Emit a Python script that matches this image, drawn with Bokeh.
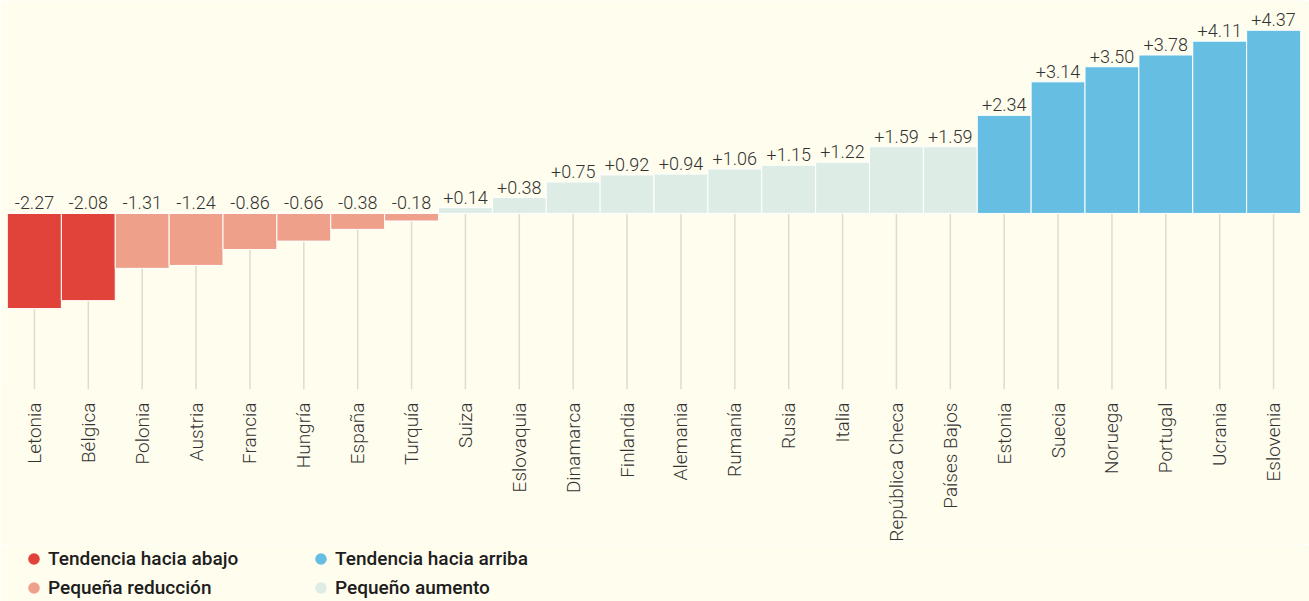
from math import pi
from bokeh.plotting import figure
from bokeh.layouts import column
from bokeh.models import (ColumnDataSource, FactorRange, Range1d, Legend, LegendItem,
                          CDSView, GroupFilter)
from bokeh.core.properties import value
from bokeh.embed import file_html
from bokeh.resources import INLINE

countries = ["Letonia", "Bélgica", "Polonia", "Austria", "Francia", "Hungría", "España", "Turquía",
             "Suiza", "Eslovaquia", "Dinamarca", "Finlandia", "Alemania", "Rumanía", "Rusia", "Italia",
             "República Checa", "Países Bajos", "Estonia", "Suecia", "Noruega", "Portugal", "Ucrania",
             "Eslovenia"]
values = [-2.27, -2.08, -1.31, -1.24, -0.86, -0.66, -0.38, -0.18,
          0.14, 0.38, 0.75, 0.92, 0.94, 1.06, 1.15, 1.22,
          1.59, 1.59, 2.34, 3.14, 3.50, 3.78, 4.11, 4.37]
groups = (["Tendencia hacia abajo"] * 2 + ["Pequeña reducción"] * 6
          + ["Pequeño aumento"] * 10 + ["Tendencia hacia arriba"] * 6)
group_colors = {
    "Tendencia hacia abajo": "#e1423a",
    "Pequeña reducción": "#eea08a",
    "Tendencia hacia arriba": "#66bfe3",
    "Pequeño aumento": "#ddede6",
}
legend_columns = [["Tendencia hacia abajo", "Pequeña reducción"],
                  ["Tendencia hacia arriba", "Pequeño aumento"]]

BG = "#fffdee"
TXT = "#333333"
FONT = "Roboto Light, Roboto"
LEG_FONT = "Roboto Medium, Roboto"
Y0, Y1 = -4.2, 5.08

src = ColumnDataSource(dict(
    country=countries,
    value=values,
    group=groups,
    color=[group_colors[g] for g in groups],
    label=[f"{v:+.2f}" for v in values],
    label_y=[max(v, 0) for v in values],
    line_end=[Y0] * len(values),
    zero=[0] * len(values),
))

p = figure(width=1309, height=544, x_range=FactorRange(*countries), y_range=Range1d(Y0, Y1),
           output_backend="svg", toolbar_location=None, y_axis_location=None,
           min_border_left=7, min_border_right=9, min_border_top=0, min_border_bottom=155)
p.background_fill_color = BG
p.border_fill_color = BG
p.outline_line_color = None
p.grid.visible = False

p.segment(x0="country", y0="zero", x1="country", y1="line_end", source=src,
          line_color="#dedcca", line_width=1.5)
p.vbar(x="country", top="value", bottom=0, width=1.0, source=src,
       fill_color="color", line_color="white", line_width=1)
p.text(x="country", y="label_y", text="label", source=src, text_align="center",
       text_baseline="bottom", y_offset=-4, text_font_size="18px", text_color=TXT,
       text_font=value(FONT))

ax = p.xaxis[0]
ax.axis_line_color = None
ax.major_tick_line_color = None
ax.major_tick_out = 0
ax.major_tick_in = 0
ax.major_label_orientation = pi / 2
ax.major_label_standoff = 13
ax.major_label_text_font_size = "19px"
ax.major_label_text_color = TXT
ax.major_label_text_font = FONT

# legend strip under the chart
lf = figure(width=1309, height=57, x_range=Range1d(0, 1), y_range=Range1d(0, 1),
            output_backend="svg", toolbar_location=None, x_axis_location=None, y_axis_location=None,
            min_border_left=0, min_border_right=0, min_border_top=0, min_border_bottom=0)
lf.background_fill_color = BG
lf.border_fill_color = BG
lf.outline_line_color = None
lf.grid.visible = False

for ci, col_groups in enumerate(legend_columns):
    items = []
    for g in col_groups:
        r = lf.scatter(x="value", y="value", source=src,
                       view=CDSView(filter=GroupFilter(column_name="group", group=g)),
                       marker="circle", size=12, fill_color=group_colors[g], line_color=None)
        r.visible = False
        items.append(LegendItem(label=g, renderers=[r]))
    leg = Legend(items=items, location=(12 + 287 * ci, -1),
                 glyph_width=29, glyph_height=29, label_standoff=0, spacing=0,
                 padding=0, margin=0, border_line_color=None, background_fill_alpha=0,
                 inactive_fill_alpha=0,
                 label_text_font=LEG_FONT, label_text_font_size="19px",
                 label_text_color="#1e1e1e", label_height=29)
    lf.add_layout(leg, "center")

layout = column(p, lf, spacing=0)
open("out.html", "w").write(file_html(layout, INLINE))
